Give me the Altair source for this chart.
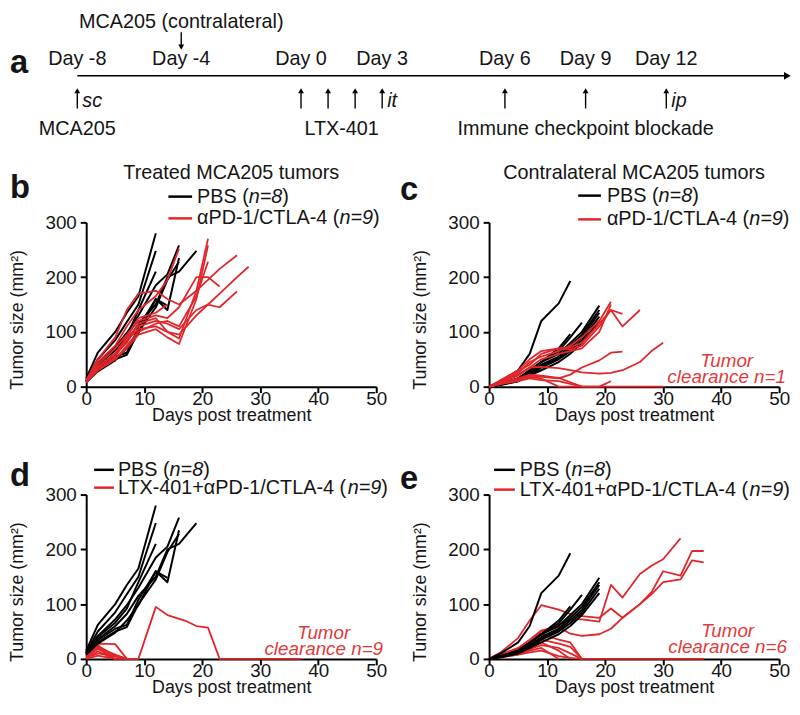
import altair as alt
import pandas as pd

FONT = "Liberation Sans"
INK = "#141414"
RED = "#e1262b"
RED_TXT = "#e23a3c"

# ---------------- panel a : treatment schedule ----------------
TL_DAYS = [-8, -4, 0, 3, 6, 9, 12]
TL_LABELS = ["Day -8", "Day -4", "Day 0", "Day 3", "Day 6", "Day 9", "Day 12"]
TL_SCHEMATIC_DOMAIN = [-8, -4, 0, 3, 6, 12]
TL_START = -8
TL_END = 16.5
INJECTION_DAYS = [-8, 0, 1, 2, 3, 6, 9, 12]
ROUTE_DAYS = [-8, 3, 12]
ROUTE_LABELS = ["sc", "it", "ip"]
AGENT_DAYS = [-8, 1.5, 9]
AGENT_LABELS = ["MCA205", "LTX-401", "Immune checkpoint blockade"]
CONTRA_DAYS = [-4]
CONTRA_LABELS = ["MCA205 (contralateral)"]

# ---------------- tumour growth curves (day list, size list) ----------------
PBS_TREATED = [
    ([0, 2, 5, 7, 9, 12], [15, 62, 100, 135, 165, 280]),
    ([0, 2, 5, 7, 9, 12], [12, 50, 85, 118, 150, 248]),
    ([0, 2, 5, 7, 9, 12, 14, 16], [10, 42, 72, 98, 130, 185, 205, 258]),
    ([0, 2, 5, 7, 9, 12, 14, 16, 19], [10, 36, 60, 82, 115, 150, 200, 210, 248]),
    ([0, 2, 5, 7, 9, 12, 14, 16], [8, 34, 55, 62, 108, 160, 140, 235]),
    ([0, 2, 5, 7, 9, 12, 14, 16], [8, 30, 50, 58, 100, 145, 195, 228]),
    ([0, 2, 5, 7, 9, 12], [10, 40, 66, 92, 140, 210]),
    ([0, 2, 5, 7, 9, 12, 14], [8, 28, 48, 70, 98, 160, 148]),
]
ICB_TREATED = [
    ([0, 2, 5, 7, 9, 12, 14, 16], [10, 45, 75, 110, 140, 165, 195, 252]),
    ([0, 2, 5, 7, 9, 12, 14, 16, 19, 21], [8, 35, 60, 80, 115, 125, 100, 88, 175, 270]),
    ([0, 2, 5, 7, 9, 12, 14, 16, 19, 21], [8, 30, 50, 70, 95, 105, 90, 78, 160, 258]),
    ([0, 2, 5, 7, 9, 12, 14, 16, 19, 21, 23], [10, 40, 70, 95, 120, 130, 125, 145, 200, 200, 183]),
    ([0, 2, 5, 7, 9, 12, 14, 16, 19, 21, 23, 26], [12, 50, 90, 140, 170, 175, 160, 150, 175, 195, 215, 240]),
    ([0, 2, 5, 7, 9, 12, 14, 16, 19, 21, 23, 26, 28], [8, 35, 60, 90, 110, 120, 115, 105, 140, 150, 170, 200, 219]),
    ([0, 2, 5, 7, 9, 12, 14, 16, 19, 21, 23, 26], [8, 30, 55, 85, 105, 110, 100, 95, 130, 150, 145, 174]),
    ([0, 2, 5, 7, 9, 12, 14], [10, 35, 60, 90, 125, 135, 150]),
    ([0, 2, 5, 7, 9, 12, 14, 16, 19, 21], [8, 30, 50, 75, 100, 115, 120, 110, 165, 228]),
]
PBS_CONTRA = [
    ([0, 2, 5, 7, 9, 12, 14], [0, 10, 30, 60, 120, 152, 193]),
    ([0, 2, 5, 7, 9, 12, 14, 16, 19], [0, 5, 15, 30, 45, 60, 80, 100, 148]),
    ([0, 2, 5, 7, 9, 12, 14, 16, 19], [0, 5, 12, 25, 40, 55, 75, 95, 140]),
    ([0, 2, 5, 7, 9, 12, 14, 16, 19], [0, 4, 12, 22, 38, 52, 70, 90, 135]),
    ([0, 2, 5, 7, 9, 12, 14, 16, 19], [0, 4, 10, 20, 35, 50, 65, 85, 128]),
    ([0, 2, 5, 7, 9, 12, 14, 16, 19], [0, 3, 10, 20, 30, 45, 60, 80, 120]),
    ([0, 2, 5, 7, 9, 12, 14, 16], [0, 5, 15, 30, 45, 65, 90, 117]),
    ([0, 2, 5, 7, 9, 12, 14], [0, 5, 15, 28, 45, 70, 96]),
]
ICB_CONTRA = [
    ([0, 2, 5, 7, 9, 12, 14, 16, 19, 21], [0, 8, 25, 45, 55, 65, 75, 90, 120, 155]),
    ([0, 2, 5, 7, 9, 12, 14, 16, 19, 21, 23], [0, 10, 28, 40, 60, 70, 72, 80, 115, 140, 133]),
    ([0, 2, 5, 7, 9, 12, 14, 16, 19, 21, 23, 26], [0, 12, 30, 50, 65, 70, 68, 75, 110, 140, 110, 140]),
    ([0, 2, 5, 7, 9, 12, 14, 16, 19, 21], [0, 8, 22, 35, 50, 60, 65, 70, 100, 150]),
    ([0, 2, 5, 7, 9, 12, 14, 16, 19, 21, 23, 26, 28, 30], [0, 8, 20, 35, 36, 34, 30, 26, 24, 25, 30, 45, 65, 80]),
    ([0, 2, 5, 7, 9, 12, 14, 16, 19, 21, 23], [0, 5, 12, 20, 18, 15, 22, 35, 48, 62, 64]),
    ([0, 2, 5, 7, 9, 12, 14, 16, 19, 21], [0, 5, 10, 15, 12, 10, 5, 0, 0, 10]),
    ([0, 2, 5, 7, 9, 12, 14, 16, 19, 21, 23, 26, 28, 30], [0, 5, 12, 18, 15, 0, 0, 0, 0, 0, 0, 0, 0, 0]),
    ([0, 2, 5, 7, 9, 12, 14, 16], [0, 6, 15, 22, 20, 16, 8, 0]),
]
COMBO_TREATED = [
    ([0, 2, 5, 7, 9, 12, 14, 17, 19, 21, 23, 26, 30, 33, 37], [5, 20, 8, 0, 0, 95, 80, 70, 60, 57, 0, 0, 0, 0, 0]),
    ([0, 2, 5, 7], [10, 28, 27, 0]),
    ([0, 2, 5, 7], [8, 24, 6, 0]),
    ([0, 2, 5], [5, 20, 0]),
    ([0, 2, 5], [3, 14, 0]),
    ([0, 2, 4], [12, 26, 0]),
    ([0, 2, 5, 7], [6, 18, 4, 0]),
    ([0, 2, 5, 7], [2, 10, 5, 0]),
    ([0, 2, 5, 7, 9], [0, 6, 0, 0, 0]),
]
COMBO_CONTRA = [
    ([0, 2, 5, 7, 9, 12, 14, 16, 19, 21, 23, 26, 28, 30, 33], [0, 8, 18, 30, 50, 62, 72, 72, 68, 135, 112, 155, 170, 182, 220]),
    ([0, 2, 5, 7, 9, 12, 14, 16, 19, 21, 23, 26, 28, 30, 33, 35, 37], [0, 12, 38, 70, 98, 90, 82, 78, 75, 92, 75, 100, 122, 160, 152, 197, 197]),
    ([0, 2, 5, 7, 9, 12, 14, 16, 19, 21, 23, 26, 28, 30, 33, 35, 37], [0, 8, 20, 35, 52, 58, 46, 42, 45, 55, 75, 100, 118, 140, 145, 180, 176]),
    ([0, 5, 7, 9, 12, 14, 16], [0, 15, 30, 45, 35, 30, 0]),
    ([0, 5, 7, 9, 12, 14, 16], [0, 12, 25, 35, 28, 22, 0]),
    ([0, 5, 7, 9, 12, 14], [0, 10, 20, 30, 15, 0]),
    ([0, 5, 7, 9, 12], [0, 8, 15, 20, 0]),
    ([0, 5, 7, 9, 12, 14, 16], [0, 10, 18, 25, 20, 10, 0]),
    ([0, 5, 7, 9, 12, 14, 16, 19, 21, 23, 26, 28, 30, 33, 35, 37], [0, 8, 12, 15, 5, 2, 0, 0, 0, 0, 0, 0, 0, 0, 0, 0]),
]

X_TICKS = [0, 10, 20, 30, 40, 50]
Y_TICKS = [0, 100, 200, 300]
X_TITLE = "Days post treatment"
Y_TITLE = "Tumor size (mm²)"

LEG_PBS = ("PBS (", "n=8", ")")
LEG_ICB = ("αPD-1/CTLA-4 (", "n=9", ")")
LEG_COMBO = ("LTX-401+αPD-1/CTLA-4 (", "n=9", ")")

# ---------------- layout helpers ----------------
W, H = 293, 166
CW = {' ': 0.278, '(': 0.333, ')': 0.333, '+': 0.584, '-': 0.333, '/': 0.278,
      '=': 0.584, 'A': 0.667, 'B': 0.667, 'C': 0.722, 'D': 0.722, 'L': 0.556,
      'P': 0.667, 'S': 0.667, 'T': 0.611, 'X': 0.667, 'n': 0.556, 'α': 0.578}


def tw(s, size):
    return sum(CW.get(ch, 0.556) for ch in s) * size


def txt(s, x, y, size=20, style="normal", weight="normal", align="left",
        color=INK, baseline="middle", line_height=None):
    kw = dict(align=align, baseline=baseline, font=FONT, fontSize=size,
              fontStyle=style, fontWeight=weight, color=color)
    if line_height:
        kw["lineHeight"] = line_height
    return alt.Chart(pd.DataFrame({"t": [s]})).mark_text(**kw).encode(
        x=alt.value(x), y=alt.value(y), text="t")


XS = alt.Scale(domain=[0, 50], nice=False)
YS = alt.Scale(domain=[0, 300], nice=False)
XAX = alt.Axis(values=X_TICKS, title=X_TITLE, grid=False, domainColor="black",
               domainWidth=2, tickColor="black", tickWidth=2, tickSize=6,
               labelFont=FONT, labelFontSize=19, labelColor=INK, labelPadding=-3,
               labelFlush=False, titleFont=FONT, titleFontSize=18,
               titleFontWeight="normal", titleColor=INK, titleY=20)
YAX = alt.Axis(values=Y_TICKS, title=Y_TITLE, grid=False, domainColor="black",
               domainWidth=2, tickColor="black", tickWidth=2, tickSize=6,
               labelFont=FONT, labelFontSize=19, labelColor=INK, labelPadding=4,
               labelFlush=False, titleFont=FONT, titleFontSize=18,
               titleFontWeight="normal", titleColor=INK, titleX=-60, titleY=98)


def lines(series, color, width, tag):
    rows = []
    for i, (days, vals) in enumerate(series):
        for d, v in zip(days, vals):
            rows.append({"day": d, "size": v, "mouse": f"{tag}{i}"})
    return alt.Chart(pd.DataFrame(rows)).mark_line(
        color=color, strokeWidth=width, strokeJoin="round"
    ).encode(x=alt.X("day:Q", scale=XS, axis=XAX),
             y=alt.Y("size:Q", scale=YS, axis=YAX),
             detail="mouse:N", order="day:Q")


def legend_row(parts, color, x0, x1, tx, y, size=20):
    rule = alt.Chart(pd.DataFrame({"k": [0]})).mark_rule(
        color=color, strokeWidth=2.5
    ).encode(x=alt.value(x0), x2=alt.value(x1), y=alt.value(y))
    a, b, c = parts
    xa = tx
    xb = xa + tw(a, size)
    xc = xb + tw(b, size)
    return [rule, txt(a, xa, y, size), txt(b, xb, y, size, style="italic"),
            txt(c, xc, y, size)]


def panel_layers(black, red, red_leg, letter, letter_xy, leg, title=None,
                 clearance=None, red_first=False):
    bl = lines(black, "black", 2.0, "p")
    rd = lines(red, RED, 1.8, "r")
    layers = [rd, bl] if red_first else [bl, rd]
    layers += legend_row(LEG_PBS, "black", leg[0], leg[1], leg[2], leg[3])
    layers += legend_row(red_leg, RED, leg[0], leg[1], leg[2], leg[4])
    layers.append(txt(letter, letter_xy[0], letter_xy[1], size=33, weight="bold"))
    if title:
        layers.append(txt(title, W / 2, -50, size=20, align="center"))
    if clearance:
        cx, cy = clearance[1]
        layers.append(txt(["Tumor", clearance[0]], cx, cy, size=19,
                          style="italic", align="center", color=RED_TXT,
                          line_height=16))
    return alt.layer(*layers)


# ---------------- timeline (drawn above panel b, own x scale) ----------------
TS = alt.Scale(domain=TL_SCHEMATIC_DOMAIN, range=[-9, 96, 217, 299, 423, 586])
OFF = -214          # timeline block sits above panel b's plot area
LINE_Y = 66 + OFF


def tx_day(field="day"):
    return alt.X(f"{field}:Q", scale=TS, axis=None)


tl_line = alt.Chart(pd.DataFrame({"start": [TL_START], "end": [TL_END]})).mark_rule(
    color="black", strokeWidth=1.5).encode(x=tx_day("start"), x2="end:Q",
                                            y=alt.value(LINE_Y))
tl_head = alt.Chart(pd.DataFrame({"end": [TL_END]})).mark_point(
    shape="triangle-right", filled=True, size=60, color="black", opacity=1
).encode(x=tx_day("end"), y=alt.value(LINE_Y))
tl_days = alt.Chart(pd.DataFrame({"day": TL_DAYS, "label": TL_LABELS})).mark_text(
    font=FONT, fontSize=20, color=INK, baseline="middle"
).encode(x=tx_day(), y=alt.value(49.5 + OFF), text="label:N")
inj = pd.DataFrame({"day": INJECTION_DAYS})
tl_up = alt.Chart(inj).mark_rule(color="black", strokeWidth=1.4).encode(
    x=tx_day(), y=alt.value(81 + OFF), y2=alt.value(99 + OFF))
tl_up_head = alt.Chart(inj).mark_point(
    shape="triangle-up", filled=True, size=35, color="black", opacity=1
).encode(x=tx_day(), y=alt.value(81 + OFF))
tl_route = alt.Chart(pd.DataFrame({"day": ROUTE_DAYS, "label": ROUTE_LABELS})).mark_text(
    font=FONT, fontSize=20, fontStyle="italic", color=INK, align="left", dx=5,
    baseline="middle").encode(x=tx_day(), y=alt.value(91 + OFF), text="label:N")
tl_agent = alt.Chart(pd.DataFrame({"day": AGENT_DAYS, "label": AGENT_LABELS})).mark_text(
    font=FONT, fontSize=20, color=INK, baseline="middle"
).encode(x=tx_day(), y=alt.value(119.5 + OFF), text="label:N")
contra = pd.DataFrame({"day": CONTRA_DAYS, "label": CONTRA_LABELS})
tl_contra = alt.Chart(contra).mark_text(
    font=FONT, fontSize=20, color=INK, baseline="middle"
).encode(x=tx_day(), y=alt.value(11.5 + OFF), text="label:N")
tl_down = alt.Chart(contra).mark_rule(color="black", strokeWidth=1.4).encode(
    x=tx_day(), y=alt.value(22 + OFF), y2=alt.value(37 + OFF))
tl_down_head = alt.Chart(contra).mark_point(
    shape="triangle-down", filled=True, size=35, color="black", opacity=1
).encode(x=tx_day(), y=alt.value(37 + OFF))

timeline = alt.layer(
    tl_line, tl_head, tl_days, tl_up, tl_up_head, tl_route, tl_agent,
    tl_contra, tl_down, tl_down_head,
    txt("a", -77, 53.5 + OFF, size=33, weight="bold"),
)

# ---------------- growth panels ----------------
pb_inner = panel_layers(PBS_TREATED, ICB_TREATED, LEG_ICB, "b", (-77, -35),
                        (83, 107, 112, -26, -4), title="Treated MCA205 tumors")
pb = alt.layer(pb_inner, timeline).resolve_scale(x="independent").properties(
    width=W, height=H)
pc = panel_layers(PBS_CONTRA, ICB_CONTRA, LEG_ICB, "c", (-90, -33),
                  (90, 113, 119, -27, -3), title="Contralateral MCA205 tumors",
                  clearance=("clearance n=1", (240, 140))).properties(width=W, height=H)
pd_ = panel_layers(PBS_TREATED, COMBO_TREATED, LEG_COMBO, "d", (-77, -19),
                   (8, 28, 32, -25, -7), clearance=("clearance n=9", (240, 140)),
                   red_first=True).properties(width=W, height=H)
pe = panel_layers(PBS_CONTRA, COMBO_CONTRA, LEG_COMBO, "e", (-90, -16),
                  (5, 26, 31, -25, -5), clearance=("clearance n=6", (241, 138)),
                  red_first=True).properties(width=W, height=H)

chart = alt.concat(pb, pc, pd_, pe, columns=2, bounds="flush",
                   spacing={"row": 109, "column": 114}).properties(
    padding=0
).configure_view(stroke="transparent")

chart.save("out.html", embed_options={"renderer": "svg", "actions": False})
